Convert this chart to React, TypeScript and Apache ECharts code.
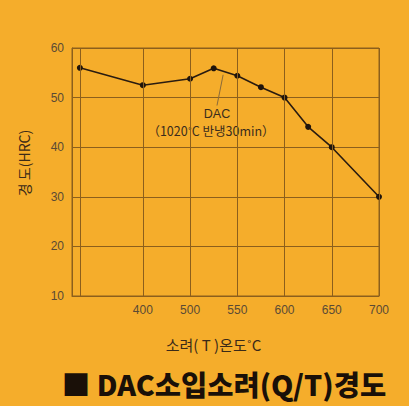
import React, { useEffect, useRef } from "react";
import * as echarts from "echarts";

// Tempering temperature (°C); "AQ" = first, unlabeled point (as quenched)
const temps: (number | string)[] = ["AQ", 400, 500, 525, 550, 575, 600, 625, 650, 700];
const hardness = [56, 52.5, 53.8, 55.9, 54.4, 52.1, 50, 44.1, 40, 30];

// labelled ticks of the (non-linear) temperature axis
const xTickTemps = [400, 500, 550, 600, 650, 700];
const yTicks = [10, 20, 30, 40, 50, 60];

const yName = "경 도(HRC)";
const xName = "소려( T )온도˚C";
const title = "■ DAC소입소려(Q/T)경도";
const noteLine1 = "DAC";
const noteLine2 = "（1020˚C 반냉30min）";

const AQ_POS = -1 / 3;

function tempToPos(t: number | string): number {
  if (typeof t !== "number") return AQ_POS;
  for (let i = 0; i < xTickTemps.length - 1; i++) {
    const a = xTickTemps[i];
    const b = xTickTemps[i + 1];
    if (t >= a && t <= b) return i + 1 + (t - a) / (b - a);
  }
  return xTickTemps.length;
}

const BG = "#f5ad2b";
const GRID = "#8c5f1c";
const LABEL = "#5a4a35";

export default function App() {
  const ref = useRef<HTMLDivElement>(null);
  useEffect(() => {
    document.body.style.margin = "0";
    if (!ref.current) return;
    const chart = echarts.init(ref.current, undefined, { renderer: "svg" });
    const data = temps.map((t, i) => [tempToPos(t), hardness[i]]);
    const gridPositions = [AQ_POS, ...xTickTemps.map((t) => tempToPos(t))];
    chart.setOption({
      animation: false,
      backgroundColor: BG,
      grid: {
        left: 72,
        top: 48,
        right: 30,
        bottom: 110,
        show: true,
        borderColor: GRID,
        borderWidth: 1,
        backgroundColor: "transparent",
      },
      xAxis: {
        type: "value",
        min: -0.5,
        max: 6,
        interval: 0.5,
        name: xName,
        nameLocation: "middle",
        nameGap: 41,
        nameTextStyle: {
          fontFamily: "Noto Sans CJK KR",
          fontSize: 15,
          color: "#3a2a18",
          padding: [0, 24, 0, 0],
        },
        axisLine: { show: true, onZero: false, lineStyle: { color: GRID, width: 1 } },
        axisTick: { show: false },
        splitLine: { show: false },
        axisLabel: {
          margin: 8,
          fontFamily: "Liberation Sans",
          fontSize: 12,
          color: LABEL,
          formatter: (v: number) => {
            const idx = Math.round(v);
            if (Math.abs(v - idx) < 1e-6 && idx >= 1 && idx <= xTickTemps.length) {
              return String(xTickTemps[idx - 1]);
            }
            return "";
          },
        },
      },
      yAxis: {
        type: "value",
        min: yTicks[0],
        max: yTicks[yTicks.length - 1],
        interval: 10,
        name: yName,
        nameLocation: "middle",
        nameRotate: 90,
        nameGap: 41,
        nameTextStyle: {
          fontFamily: "Noto Sans CJK KR",
          fontSize: 14,
          color: "#3a2a18",
          padding: [0, 0, 0, 18],
        },
        axisLine: { show: true, onZero: false, lineStyle: { color: GRID, width: 1 } },
        axisTick: { show: false },
        splitLine: { show: true, lineStyle: { color: GRID, width: 1 } },
        axisLabel: {
          margin: 8,
          fontFamily: "Liberation Sans",
          fontSize: 12,
          color: LABEL,
        },
      },
      series: [
        {
          type: "line",
          data,
          symbol: "circle",
          symbolSize: 6,
          itemStyle: { color: "#1f140b" },
          lineStyle: { color: "#2a1c10", width: 1.6 },
          markLine: {
            silent: true,
            symbol: ["none", "none"],
            label: { show: false },
            data: [
              ...gridPositions.map((p) => ({
                xAxis: p,
                lineStyle: { color: GRID, width: 1, type: "solid" },
              })),
              [
                { coord: [2.7, 54.6], lineStyle: { color: "#8a6a3a", width: 1, type: "solid" } },
                { coord: [2.57, 48.4] },
              ],
            ],
          },
        },
      ],
      graphic: [
        {
          type: "text",
          x: 217,
          y: 114,
          style: {
            text: noteLine1,
            fontFamily: "Liberation Sans",
            fontSize: 12.5,
            fill: "#3a2c1c",
            align: "center",
            verticalAlign: "middle",
          },
        },
        {
          type: "text",
          x: 211,
          y: 130,
          style: {
            text: noteLine2,
            fontFamily: "Noto Sans CJK KR",
            fontSize: 12.5,
            fill: "#3a2c1c",
            align: "center",
            verticalAlign: "middle",
          },
        },
        {
          type: "text",
          x: 224,
          y: 383,
          style: {
            text: title,
            fontFamily: "Noto Sans CJK KR",
            fontWeight: 900,
            fontSize: 28.5,
            fill: "#1a1008",
            align: "center",
            verticalAlign: "middle",
          },
        },
      ],
    });
    return () => chart.dispose();
  }, []);
  return <div ref={ref} style={{ width: 409, height: 406 }} />;
}
